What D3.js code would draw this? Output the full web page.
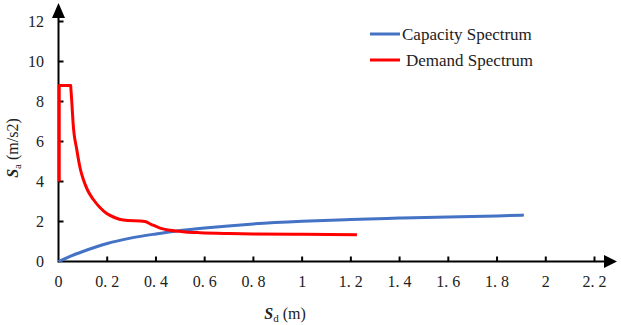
<!DOCTYPE html>
<html><head><meta charset="utf-8">
<script src="https://cdn.jsdelivr.net/npm/d3@7"></script>
<style>
html,body{margin:0;padding:0;background:#fff;}
svg{display:block;}
text{font-family:"Liberation Serif","Times New Roman",serif;fill:#222;}
</style></head>
<body>
<script>
const capacitySd = [0, 0.05, 0.1, 0.15, 0.2, 0.3, 0.4, 0.5, 0.6, 0.8, 1.0, 1.2, 1.4, 1.6, 1.8, 1.91];
const capacitySa = [0, 0.27, 0.5, 0.71, 0.9, 1.18, 1.38, 1.55, 1.68, 1.88, 2.01, 2.1, 2.17, 2.23, 2.28, 2.32];
const demandSd = [0.003, 0.003, 0.05, 0.055, 0.06, 0.075, 0.09, 0.102, 0.12, 0.143, 0.17, 0.198, 0.23, 0.266, 0.355, 0.38, 0.417, 0.458, 0.52, 0.58, 0.7, 0.8, 1.0, 1.225];
const demandSa = [4.0, 8.8, 8.8, 7.9, 6.9, 5.6, 4.6, 4.1, 3.55, 3.1, 2.7, 2.4, 2.2, 2.07, 2.0, 1.86, 1.67, 1.56, 1.48, 1.44, 1.4, 1.38, 1.36, 1.34];
const xTicks = [0, 0.2, 0.4, 0.6, 0.8, 1, 1.2, 1.4, 1.6, 1.8, 2, 2.2];
const xTickLabels = ["0", "0. 2", "0. 4", "0. 6", "0. 8", "1", "1. 2", "1. 4", "1. 6", "1. 8", "2", "2. 2"];
const yTicks = [0, 2, 4, 6, 8, 10, 12];
const yTickLabels = ["0", "2", "4", "6", "8", "10", "12"];
const seriesNames = ["Capacity Spectrum", "Demand Spectrum"];
const seriesColors = ["#4472C4", "#FF0000"];

const W = 621, H = 325;
const svg = d3.select("body").append("svg").attr("width", W).attr("height", H);
const x = d3.scaleLinear().domain([0, 2.2]).range([58.5, 594.5]);
const y = d3.scaleLinear().domain([0, 12]).range([261.5, 21.5]);

// axes lines with arrows
svg.append("line").attr("x1", x(0)).attr("x2", 606).attr("y1", y(0)).attr("y2", y(0))
  .attr("stroke", "#000").attr("stroke-width", 2);
svg.append("path").attr("d", `M604,${y(0)-6.5} L617,${y(0)} L604,${y(0)+6.5} Z`).attr("fill", "#000");
svg.append("line").attr("x1", x(0)).attr("x2", x(0)).attr("y1", y(0)+1).attr("y2", 16)
  .attr("stroke", "#000").attr("stroke-width", 2);
svg.append("path").attr("d", `M${x(0)-6.5},18 L${x(0)},3 L${x(0)+6.5},18 Z`).attr("fill", "#000");

// x ticks
const xg = svg.append("g");
xTicks.forEach((t, i) => {
  if (i > 0) xg.append("line").attr("x1", x(t)).attr("x2", x(t)).attr("y1", y(0)).attr("y2", y(0)-5)
    .attr("stroke", "#000").attr("stroke-width", 2);
  xg.append("text").attr("x", x(t)).attr("y", 287).attr("text-anchor", "middle")
    .attr("font-size", 16).attr("fill", "#333").text(xTickLabels[i]);
});
// y ticks
const yg = svg.append("g");
yTicks.forEach((t, i) => {
  if (i > 0) yg.append("line").attr("x1", x(0)).attr("x2", x(0)+5).attr("y1", y(t)).attr("y2", y(t))
    .attr("stroke", "#000").attr("stroke-width", 2);
  yg.append("text").attr("x", 44).attr("y", y(t)).attr("dy", "0.35em").attr("text-anchor", "end")
    .attr("font-size", 16).attr("fill", "#333").text(yTickLabels[i]);
});

// lines
const capData = capacitySd.map((d, i) => [d, capacitySa[i]]);
const demData = demandSd.map((d, i) => [d, demandSa[i]]);
svg.append("path").datum(capData)
  .attr("d", d3.line().x(d => x(d[0])).y(d => y(d[1])).curve(d3.curveMonotoneX))
  .attr("fill", "none").attr("stroke", seriesColors[0]).attr("stroke-width", 3);
// demand: vertical + flat plateau straight, then smooth decay
const lineLin = d3.line().x(d => x(d[0])).y(d => y(d[1]));
const lineSmooth = d3.line().x(d => x(d[0])).y(d => y(d[1])).curve(d3.curveMonotoneX);
const dPath = lineLin(demData.slice(0, 3)) + lineSmooth(demData.slice(2)).replace(/^M/, "L");
svg.append("path")
  .attr("d", dPath)
  .attr("fill", "none").attr("stroke", seriesColors[1]).attr("stroke-width", 3)
  .attr("stroke-linejoin", "round");

// legend
const legY = [34, 60], legTx = [402, 406];
seriesNames.forEach((n, i) => {
  svg.append("line").attr("x1", 370).attr("x2", 400).attr("y1", legY[i]).attr("y2", legY[i])
    .attr("stroke", seriesColors[i]).attr("stroke-width", 3);
  svg.append("text").attr("x", legTx[i]).attr("y", legY[i]).attr("dy", "0.33em")
    .attr("font-size", 17).text(n);
});

// axis titles
const xt = svg.append("text").attr("x", 285).attr("y", 319).attr("text-anchor", "middle").attr("font-size", 16);
xt.append("tspan").attr("font-weight", "bold").attr("font-style", "italic").text("S");
xt.append("tspan").attr("font-size", 11).attr("dy", 3).text("d");
xt.append("tspan").attr("dy", -3).text(" (m)");

const yt = svg.append("text").attr("transform", "translate(18,148) rotate(-90)")
  .attr("text-anchor", "middle").attr("font-size", 16);
yt.append("tspan").attr("font-weight", "bold").attr("font-style", "italic").text("S");
yt.append("tspan").attr("font-size", 11).attr("dy", 3).text("a");
yt.append("tspan").attr("dy", -3).text(" (m/s2)");
</script>
</body></html>
